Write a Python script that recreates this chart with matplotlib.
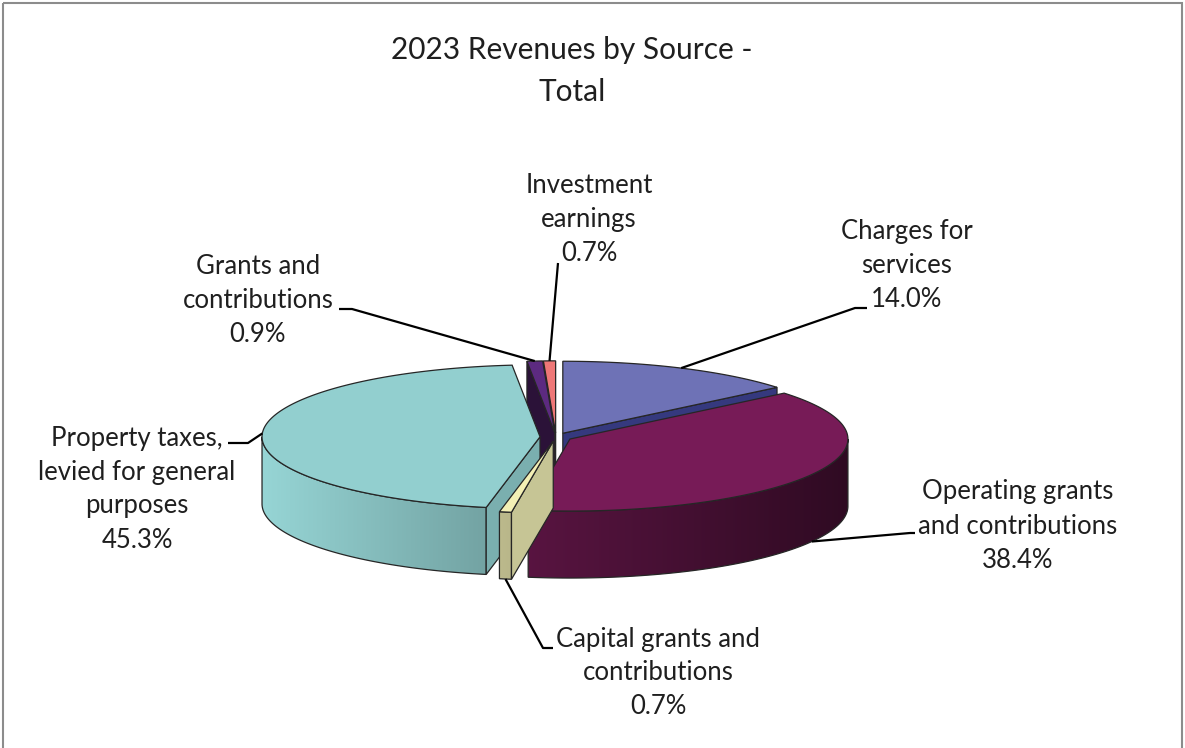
import numpy as np
import matplotlib.pyplot as plt
from matplotlib.patches import Polygon, Rectangle
import matplotlib.colors as mcolors

plt.rcParams['font.family'] = ['Lato', 'DejaVu Sans']

title = '2023 Revenues by Source -\nTotal'
sources = ['Charges for\nservices',
           'Operating grants\nand contributions',
           'Capital grants and\ncontributions',
           'Property taxes,\nlevied for general\npurposes',
           'Grants and\ncontributions',
           'Investment\nearnings']
shares = [14.0, 38.4, 0.7, 45.3, 0.9, 0.7]

top_colors = ['#6E72B6', '#771B57', '#F3F0B5', '#92CFCF', '#5C2A80', '#EE7777']
cut_colors = ['#35397E', '#4A0E35', '#C6C595', '#7AAFAF', '#2B1238', '#B85555']

# label layout: text centre, leader elbow, leader tail end
label_xy = [(907, 265), (1018, 526), (658, 673), (137, 489), (258, 300), (589, 219)]
elbow_xy = [(855, 308), (910, 533), (543, 648), (248, 443), (352, 309), (558, 263)]
tail_xy = [(867, 308), (915, 533), (553, 648), (228, 443), (339, 309), (558, 263)]

# pie geometry in pixels
cx, cy = 556, 437
rx, ry = 278, 72
depth = 67
explode = 16
edge = '#262626'

fig = plt.figure(figsize=(11.85, 7.48), dpi=100)
ax = fig.add_axes([0, 0, 1, 1])
ax.set_xlim(0, 1185)
ax.set_ylim(748, 0)
ax.axis('off')


def rim(theta, ox, oy, down=0.0):
    t = np.radians(theta)
    return cx + ox + rx * np.sin(t), cy + oy - ry * np.cos(t) + down


def shade(color, x):
    f = np.clip(1.03 - 0.00108 * (x - 262), 0.3, 1.1)
    rgb = np.array(mcolors.to_rgb(color))[None, :] * np.atleast_1d(f)[:, None]
    return np.clip(rgb, 0, 1)


ends = np.cumsum(shares) * 3.6
starts = ends - np.array(shares) * 3.6
mids = (starts + ends) / 2

order = sorted(range(len(shares)), key=lambda k: -np.cos(np.radians(mids[k])))

for i in order:
    a, b, m = starts[i], ends[i], mids[i]
    ox = explode * np.sin(np.radians(m))
    oy = -explode * np.cos(np.radians(m)) * ry / rx
    apex = (cx + ox, cy + oy)
    apex_d = (cx + ox, cy + oy + depth)

    # outer curved side (front half only), gradient clipped to the side shape
    lo, hi = max(a, 90), min(b, 270)
    if lo < hi:
        th = np.linspace(lo, hi, max(3, int((hi - lo) * 2)))
        topline = [rim(t, ox, oy) for t in th]
        botline = [rim(t, ox, oy, depth) for t in th[::-1]]
        side = Polygon(topline + botline, closed=True, facecolor='none',
                       edgecolor=edge, lw=0.9, zorder=2)
        xs = np.array([p[0] for p in topline])
        ys = np.array([p[1] for p in topline + botline])
        x0, x1 = xs.min() - 2, xs.max() + 2
        y0, y1 = ys.min() - 2, ys.max() + 2
        grad = shade(top_colors[i], np.linspace(x0, x1, 200))[None, :, :]
        im = ax.imshow(grad, extent=(x0, x1, y1, y0), aspect='auto',
                       interpolation='bilinear', zorder=2)
        clip = Polygon(topline + botline, closed=True, transform=ax.transData)
        im.set_clip_path(clip)
        ax.add_patch(side)

    # cut faces
    for t, vis in ((a, np.sin(np.radians(a)) < -1e-9), (b, np.sin(np.radians(b)) > 1e-9)):
        if vis:
            p, q = rim(t, ox, oy), rim(t, ox, oy, depth)
            ax.add_patch(Polygon([apex, p, q, apex_d], closed=True, zorder=2,
                                 facecolor=cut_colors[i], edgecolor=edge, lw=0.9))

    # top face
    th = np.linspace(a, b, max(3, int((b - a) * 1.5)))
    pts = [apex] + [rim(t, ox, oy) for t in th]
    ax.add_patch(Polygon(pts, closed=True, facecolor=top_colors[i], zorder=2,
                         edgecolor=edge, lw=0.9))

ax.set_xlim(0, 1185)
ax.set_ylim(748, 0)

# leader lines and labels
for i in range(len(shares)):
    m = mids[i]
    ox = explode * np.sin(np.radians(m))
    oy = -explode * np.cos(np.radians(m)) * ry / rx
    down = depth if np.cos(np.radians(m)) < -0.3 else 0
    start = rim(m, ox, oy, down)
    xs = [start[0], elbow_xy[i][0], tail_xy[i][0]]
    ys = [start[1], elbow_xy[i][1], tail_xy[i][1]]
    ax.plot(xs, ys, color='black', lw=1.6, solid_capstyle='butt', zorder=3)
    ax.text(label_xy[i][0], label_xy[i][1], f'{sources[i]}\n{shares[i]:.1f}%',
            ha='center', va='center', fontsize=18.5, color='#1f1f1f',
            linespacing=1.45, zorder=4)

ax.text(572, 71, title, ha='center', va='center', fontsize=21.5,
        color='#1f1f1f', linespacing=1.65)

ax.add_patch(Rectangle((3, 3), 1179, 770, fill=False, edgecolor='#8c8c8c', lw=1.5))

fig.savefig('out.png', dpi=100)
